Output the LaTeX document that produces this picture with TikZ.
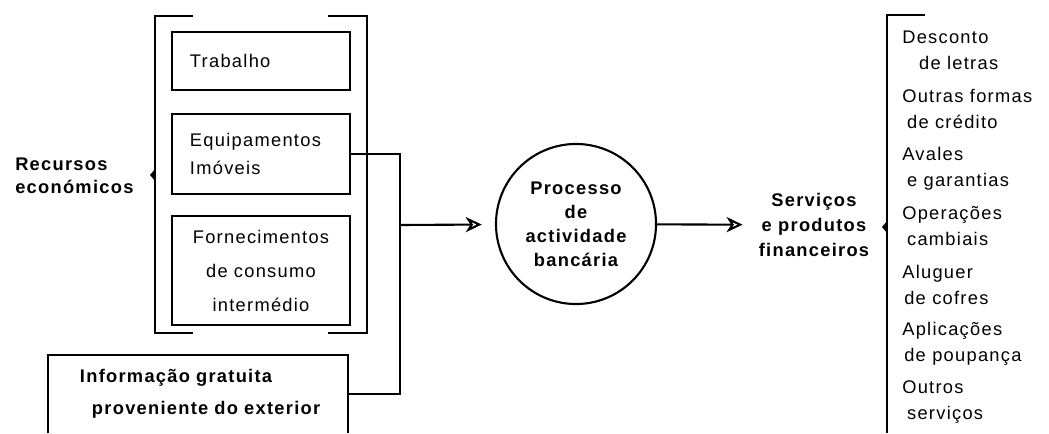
\documentclass[tikz,border=0pt]{standalone}
\usepackage{fontspec}
\setmainfont{Liberation Sans}[LetterSpace=7]
\usetikzlibrary{positioning, arrows.meta}
\tikzset{
	inbox/.style = {rectangle, draw=black, line width=1.5pt, text width=3.55cm, inner xsep=0.45cm, minimum height=1.45cm, align=left, font=\fontsize{13}{20}\selectfont},
	infobox/.style = {rectangle, text width=6.5cm, inner xsep=0.5cm, minimum height=1.95cm, align=left, font=\bfseries\fontsize{13}{23}\selectfont},
	bank/.style = {circle, draw=black, line width=1.5pt, minimum size=4cm, inner sep=0pt, align=center, font=\bfseries\fontsize{13}{17}\selectfont},
	heading/.style = {inner sep=0pt, font=\bfseries\fontsize{13}{16}\selectfont},
	servitem/.style = {anchor=west, inner sep=0pt, align=left, font=\fontsize{13}{18.5}\selectfont},
	bracket/.style = {line width=1.5pt},
	wire/.style = {line width=1.5pt},
	arrow/.style = {-{Stealth[open, length=0.4cm, width=0.38cm, inset=0.12cm]}, line width=1.5pt}
}
\begin{document}
\begin{tikzpicture}[x=0.025cm, y=-0.025cm]

		\useasboundingbox (0,0) rectangle (1049,433);

		% Left: economic resources
		\node (trabalho) [inbox] at (261,61) {Trabalho};
		\node (equipamentos) [inbox, below=0.55cm of trabalho, minimum height=2cm] {Equipamentos\\Imóveis};
		\node (fornecimentos) [inbox, below=0.5cm of equipamentos, minimum height=2.725cm, align=center, font=\fontsize{13}{24}\selectfont] {Fornecimentos\\de consumo\\intermédio};

		\draw [bracket] (193,16) -| (155,333) -- (193,333);
		\draw [bracket] (328,16) -| (367,333) -- (328,333);
		\fill (155,169) -- (150,175) -- (155,181) -- cycle;
		\node (recursos) [heading, anchor=west, align=left] at (15,176) {Recursos\\económicos};

		% Free information
		\node (informacao) [infobox] at (198,394) {\hspace*{0.3cm}Informação gratuita\\\hspace*{0.6cm}proveniente do exterior};
		\draw [wire] (informacao.south west) |- (informacao.north east) -- (informacao.south east);

		% Centre: banking process
		\node (bank) [bank] at (576,224) {Processo\\de\\actividade\\bancária};

		% Right: services and products
		\node (servicos) [heading, align=center, font=\bfseries\fontsize{13}{18}\selectfont] at (814,225) {Serviços\\e produtos\\financeiros};

		\draw [bracket] (925,15) -| (887,433);
		\fill (887,221) -- (882,227) -- (887,233) -- cycle;

		\node (desconto) [servitem] at (902,50) {Desconto\\\hspace*{0.42cm}de letras};
		\node (credito) [servitem] at (902,108.5) {Outras formas\\\hspace*{0.12cm}de crédito};
		\node (avales) [servitem] at (902,168.5) {Avales\\\hspace*{0.12cm}e garantias};
		\node (cambiais) [servitem] at (902,226.5) {Operações\\\hspace*{0.12cm}cambiais};
		\node (cofres) [servitem] at (902,285) {Aluguer\\\hspace*{0.05cm}de cofres};
		\node (poupanca) [servitem] at (902,343.5) {Aplicações\\\hspace*{0.05cm}de poupança};
		\node (outros) [servitem] at (902,402.5) {Outros\\\hspace*{0.12cm}serviços};

		% Arrows
		\coordinate (joint) at (400,225);
		\draw [wire] (equipamentos.east) -| (joint) |- (informacao.east);
		\draw [arrow, shorten >=0.33cm] (joint) -- (bank);
		\draw [arrow, shorten >=0.4cm] (bank) -- (servicos);

\end{tikzpicture}
\end{document}
